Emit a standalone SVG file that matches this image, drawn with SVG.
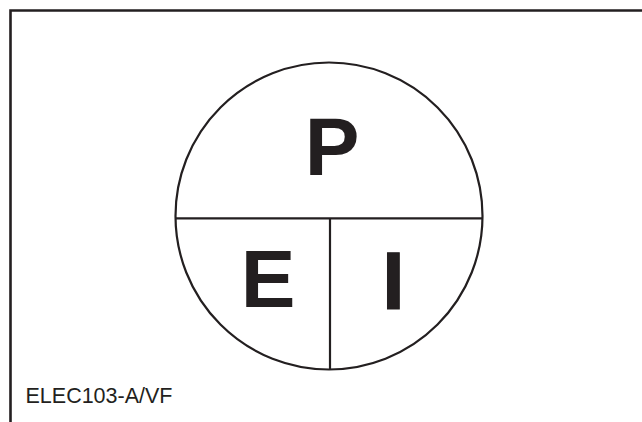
<svg xmlns="http://www.w3.org/2000/svg" width="642" height="422" viewBox="0 0 642 422">
<style>
.ln{stroke:#231f20;stroke-width:2.2;fill:none}
.big{font-family:"Liberation Sans",Arial,sans-serif;font-weight:bold;font-size:82px;fill:#231f20}
.lbl{font-family:"Liberation Sans",Arial,sans-serif;font-size:21.5px;fill:#231f20}
</style>
<rect width="642" height="422" fill="#fff"/>
<g id="frame">
<path d="M10.5 422 V10.5 H642" stroke="#231f20" stroke-width="2.6" fill="none"/>
</g>
<g id="circle">
<circle class="ln" cx="329" cy="216" r="153.5"/>
</g>
<g id="connectors">
<line class="ln" x1="175.5" y1="218.3" x2="482.5" y2="218.3"/>
<line class="ln" x1="330" y1="218.3" x2="330" y2="369.5"/>
</g>
<g id="node-P"><text class="big" x="332" y="175" text-anchor="middle">P</text></g>
<g id="node-E"><text class="big" x="268" y="306.5" text-anchor="middle" font-size="81">E</text></g>
<g id="node-I"><text class="big" x="393.5" y="309" text-anchor="middle" font-size="81" stroke="#231f20" stroke-width="1">I</text></g>
<g id="label"><text class="lbl" x="25.5" y="403">ELEC103-A/VF</text></g>
</svg>
